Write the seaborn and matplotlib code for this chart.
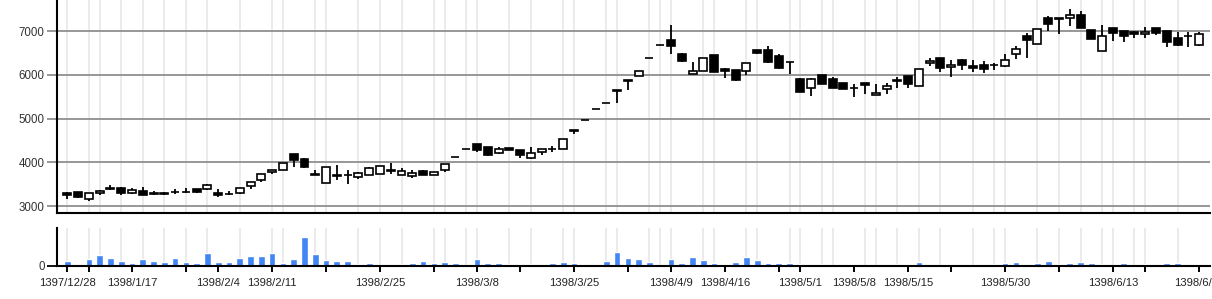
import numpy as np
import pandas as pd
import matplotlib
matplotlib.use("Agg")
import matplotlib.pyplot as plt
import seaborn as sns

# ---------------- data ----------------
open_ = [3305, 3320, 3160, 3297, 3412, 3411, 3312, 3358, 3312, 3300,
         3325, 3325, 3389, 3389, 3305, 3292, 3297, 3457, 3594, 3777,
         3831, 4189, 4090, 3730, 3535, 3705, 3715, 3672, 3710, 3748,
         3820, 3725, 3695, 3817, 3725, 3832, 4130, 4305, 4412, 4351,
         4206, 4320, 4275, 4092, 4244, 4318, 4313, 4735, 4969, 5213,
         5355, 5645, 5876, 5977, 6388, 6692, 6806, 6486, 6023, 6091,
         6456, 6144, 6114, 6091, 6570, 6570, 6441, 6300, 5916, 5704,
         6000, 5909, 5818, 5700, 5818, 5544, 5681, 5894, 5977, 5745,
         6274, 6388, 6182, 6350, 6205, 6236, 6232, 6198, 6479, 6897,
         6707, 7300, 7290, 7300, 7376, 7019, 6540, 7064, 6996, 6988,
         6935, 7064, 6996, 6844, 6895, 6684]
close = [3251, 3206, 3297, 3358, 3398, 3312, 3366, 3267, 3290, 3285,
         3315, 3315, 3335, 3480, 3251, 3282, 3427, 3549, 3732, 3823,
         3998, 4052, 3891, 3720, 3901, 3695, 3705, 3771, 3885, 3924,
         3798, 3801, 3763, 3725, 3779, 3962, 4130, 4305, 4290, 4168,
         4305, 4280, 4160, 4214, 4297, 4308, 4526, 4728, 4969, 5213,
         5355, 5635, 5866, 6091, 6388, 6692, 6654, 6312, 6091, 6388,
         6076, 6084, 5894, 6274, 6494, 6289, 6152, 6290, 5605, 5916,
         5795, 5704, 5681, 5692, 5772, 5590, 5742, 5863, 5787, 6137,
         6327, 6152, 6236, 6236, 6167, 6137, 6224, 6334, 6593, 6790,
         7049, 7155, 7280, 7368, 7072, 6821, 6882, 6958, 6882, 6935,
         6988, 6958, 6745, 6677, 6885, 6942]
high = [3335, 3325, 3297, 3380, 3488, 3450, 3411, 3450, 3340, 3330,
        3404, 3410, 3395, 3510, 3396, 3343, 3427, 3549, 3740, 3830,
        3998, 4195, 4100, 3824, 3901, 3954, 3824, 3775, 3890, 3930,
        3992, 3878, 3824, 3820, 3785, 3965, 4130, 4310, 4415, 4355,
        4359, 4322, 4280, 4351, 4300, 4382, 4530, 4740, 4969, 5213,
        5355, 5645, 5876, 6095, 6388, 6692, 7148, 6490, 6296, 6390,
        6460, 6150, 6120, 6280, 6575, 6669, 6479, 6300, 5920, 5920,
        6005, 5955, 5820, 5795, 5820, 5795, 5818, 5955, 5985, 6140,
        6388, 6390, 6350, 6355, 6350, 6312, 6274, 6479, 6654, 6958,
        7050, 7353, 7290, 7505, 7452, 7025, 7148, 7070, 7000, 6990,
        7087, 7070, 7000, 6973, 6981, 6973]
low = [3168, 3200, 3114, 3260, 3373, 3259, 3274, 3251, 3255, 3255,
       3280, 3300, 3297, 3380, 3221, 3267, 3290, 3389, 3549, 3732,
       3820, 3891, 3885, 3720, 3535, 3611, 3519, 3618, 3705, 3740,
       3733, 3720, 3656, 3720, 3720, 3779, 4130, 4300, 4244, 4140,
       4200, 4275, 4099, 4090, 4160, 4229, 4305, 4656, 4969, 5213,
       5355, 5350, 5665, 5965, 6388, 6692, 6486, 6305, 6020, 6085,
       6060, 5932, 5856, 6008, 6470, 6280, 6140, 6030, 5600, 5514,
       5790, 5700, 5678, 5498, 5552, 5540, 5567, 5704, 5704, 5740,
       6213, 6061, 5954, 6122, 6061, 6046, 6122, 6190, 6365, 6388,
       6700, 7011, 6935, 7110, 7065, 6815, 6535, 6783, 6752, 6836,
       6836, 6905, 6639, 6670, 6639, 6654]
volume = [470, 170, 670, 1070, 770, 470, 300, 670, 470, 370,
          770, 370, 300, 1270, 370, 370, 770, 970, 970, 1270,
          300, 670, 2870, 1170, 570, 470, 470, 170, 270, 70,
          130, 170, 270, 470, 270, 370, 270, 70, 670, 270,
          270, 170, 170, 170, 170, 270, 370, 270, 170, 70,
          470, 1370, 770, 670, 370, 50, 670, 270, 870, 570,
          270, 170, 370, 870, 570, 270, 270, 270, 170, 50,
          170, 50, 50, 170, 50, 50, 50, 170, 50, 400,
          170, 50, 170, 50, 50, 50, 170, 270, 400, 170,
          270, 470, 170, 270, 370, 270, 170, 50, 270, 50,
          170, 170, 270, 270, 50, 50]
volume = [v * 1000 for v in volume]

tick_pos = [0, 2, 6, 11, 14, 19, 24, 29, 34, 38, 42, 47, 52, 56, 61,
            66, 68, 73, 78, 82, 87, 92, 97, 100, 105]
tick_labels = ["1397/12/28", "", "1398/1/17", "", "1398/2/4", "1398/2/11", "",
               "1398/2/25", "", "1398/3/8", "", "1398/3/25", "", "1398/4/9",
               "1398/4/16", "", "1398/5/1", "1398/5/8", "1398/5/15", "",
               "1398/5/30", "", "1398/6/13", "", "1398/6/27"]
grid_pos = [0, 2, 3, 5, 7, 9, 11, 13, 16, 19, 20, 23, 24, 27, 29, 31, 34, 35,
            37, 38, 41, 43, 46, 47, 50, 51, 54, 55, 56, 59, 60, 63, 64, 67, 68,
            70, 71, 74, 75, 77, 79, 81, 84, 86, 87, 90, 92, 94, 96, 97, 99,
            100, 103]
price_ticks = [3000, 4000, 5000, 6000, 7000]

# ---------------- figure ----------------
sns.set_theme(style="white")
plt.rcParams['font.family'] = ['Liberation Sans', 'DejaVu Sans']

n = len(open_)
df = pd.DataFrame({"idx": np.arange(n), "open": open_, "close": close,
                   "high": high, "low": low, "volume": volume})
df["bottom"] = df[["open", "close"]].min(axis=1)
df["height"] = (df["close"] - df["open"]).abs()
df["up"] = df["close"] >= df["open"]

fig = plt.figure(figsize=(12.12, 2.99), dpi=100)
ax = fig.add_axes([0.0473, 0.2866, 0.951, 0.7134])
axv = fig.add_axes([0.0473, 0.1104, 0.951, 0.1271])

xlim = (-0.93, 106.0)
grid_light = "#e8e8e8"
grid_dark = "#8f8f8f"

# ---- price panel ----
for g in grid_pos:
    ax.axvline(g, color=grid_light, lw=1.2, zorder=0)
ax.vlines(df["idx"], df["low"], df["high"], color="black", lw=1.3, zorder=2)
ax.bar(df["idx"], df["height"], bottom=df["bottom"], width=0.74,
       color=np.where(df["up"], "white", "black"), edgecolor="black",
       linewidth=1.2, zorder=3)
ax.set_xlim(*xlim)
ax.set_ylim(2840, 7709)
ax.set_yticks(price_ticks)
ax.set_yticklabels([str(t) for t in price_ticks])
ax.yaxis.grid(True, color=grid_dark, lw=1.3, zorder=1)
ax.xaxis.grid(False)
ax.set_xticks([])
ax.tick_params(axis="y", left=True, length=7.5, width=1.3, color=grid_dark,
               pad=1.5, labelsize=8.3, labelcolor="#333333")
for s in ["top", "right"]:
    ax.spines[s].set_visible(False)
for s in ["left", "bottom"]:
    ax.spines[s].set_color("black")
    ax.spines[s].set_linewidth(1.5)
ax.set_xlabel("")
ax.set_ylabel("")

# ---- volume panel ----
for g in grid_pos:
    axv.axvline(g, color=grid_light, lw=1.2, zorder=0)
sns.barplot(data=df, x="idx", y="volume", ax=axv, color="#4285f4",
            saturation=1, width=0.62, native_scale=True, errorbar=None,
            zorder=2)
axv.set_xlim(*xlim)
axv.set_ylim(0, 3.8e6)
axv.set_yticks([0])
axv.set_yticklabels(["0"])
axv.set_xticks(tick_pos)
axv.set_xticklabels(tick_labels)
axv.tick_params(axis="y", left=True, length=7.5, width=1.3, color="black",
                pad=1.5, labelsize=8.3, labelcolor="#333333")
axv.tick_params(axis="x", bottom=True, length=4.5, width=1.4, color="black",
                pad=4, labelsize=8.1, labelcolor="#222222")
for s in ["top", "right"]:
    axv.spines[s].set_visible(False)
for s in ["left", "bottom"]:
    axv.spines[s].set_color("black")
    axv.spines[s].set_linewidth(1.5)
axv.set_xlabel("")
axv.set_ylabel("")

fig.savefig("out.png", dpi=100)
